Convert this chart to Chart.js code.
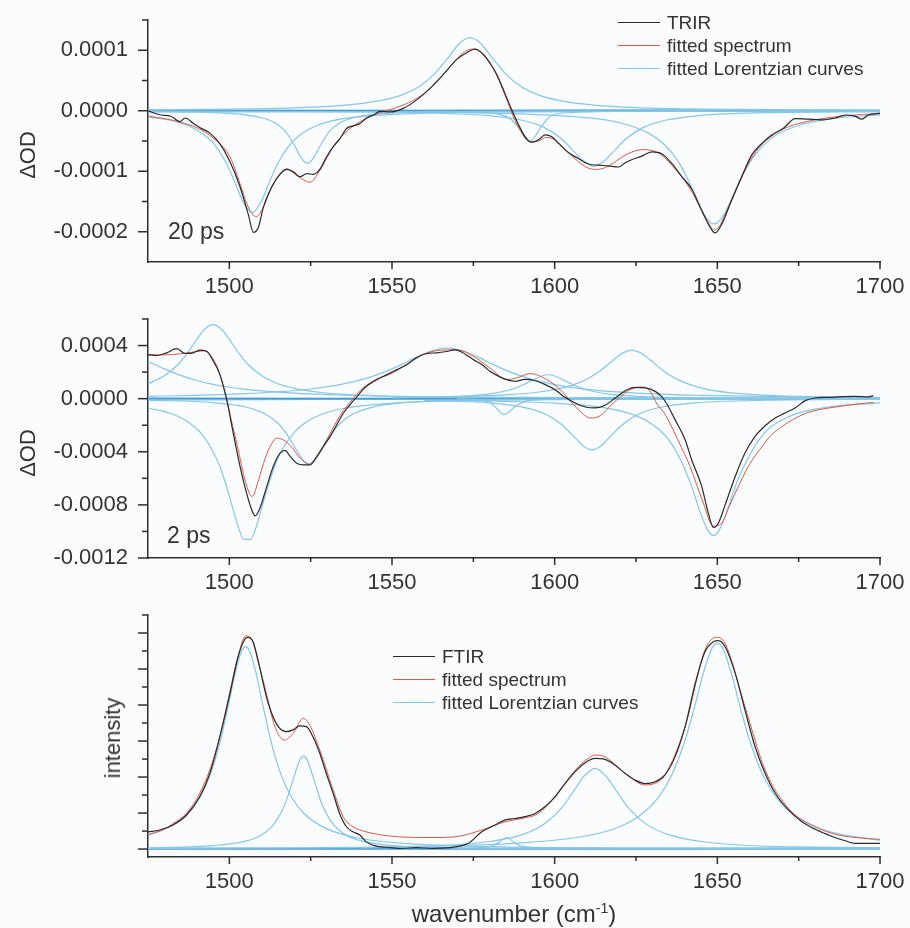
<!DOCTYPE html>
<html>
<head>
<meta charset="utf-8">
<title>TRIR and FTIR spectra with Lorentzian fits</title>
<script src="https://cdn.jsdelivr.net/npm/chart.js@4.4.1/dist/chart.umd.min.js"></script>
<style>
  html, body { margin: 0; padding: 0; background: #fbfcfd; }
  #wrap { position: relative; width: 910px; height: 928px; overflow: hidden;
          font-family: "Liberation Sans", Arial, sans-serif; color: #333; }
  canvas { position: absolute; left: 0; }
  .ytitle { position: absolute; transform: translate(-50%, -50%) rotate(-90deg);
            font-size: 22px; line-height: 22px; white-space: nowrap; }
  .tag { position: absolute; font-size: 23px; line-height: 23px; white-space: nowrap; }
  .xtitle { position: absolute; font-size: 24px; line-height: 24px; white-space: nowrap;
            transform: translateX(-50%); }
  .xtitle sup { font-size: 14px; line-height: 0; vertical-align: 9px; }
  .legend { position: absolute; font-size: 19px; }
  .legend .row { height: 23px; line-height: 23px; display: flex; align-items: center; white-space: nowrap; }
  .legend .swatch { display: inline-block; width: 42px; height: 1px; margin-right: 7px; }
</style>
</head>
<body>
<div id="wrap">
  <canvas id="p1" width="910" height="300" style="top:0px"></canvas>
  <canvas id="p2" width="910" height="300" style="top:300px"></canvas>
  <canvas id="p3" width="910" height="328" style="top:600px"></canvas>
</div>
<script>
// ---------- axes ----------
const WN_MIN = 1475, WN_MAX = 1700;
const X_MAJOR = [1500, 1550, 1600, 1650, 1700];
const X_MINOR = [1525, 1575, 1625, 1675];

const P1_Y_RANGE = [-2.5e-4, 1.5e-4];
const P1_Y_MAJOR = [-2e-4, -1e-4, 0, 1e-4];
const P1_Y_MINOR = [-1.5e-4, -0.5e-4, 0.5e-4, 1.5e-4];

const P2_Y_RANGE = [-12e-4, 6e-4];
const P2_Y_MAJOR = [-12e-4, -8e-4, -4e-4, 0, 4e-4];
const P2_Y_MINOR = [-10e-4, -6e-4, -2e-4, 2e-4, 6e-4];

const P3_Y_RANGE = [-0.22, 6.5];
const P3_Y_MAJOR = [0, 1, 2, 3, 4, 5, 6];
const P3_Y_MINOR = [0.5, 1.5, 2.5, 3.5, 4.5, 5.5, 6.5];

// ---------- panel 1: 20 ps TRIR (ΔOD) ----------
const P1_TRIR_WN = [1475,1477.5,1479,1482,1484.8,1486.4,1489,1491,1494,1497,1500,1503.3,1505.8,1507.4,1508.9,1510.5,1512.5,1515,1517.6,1519.7,1521.7,1523.8,1525.8,1527.9,1529.9,1532,1534,1536.1,1538.1,1540.2,1542.2,1544.3,1546.3,1549.4,1553.5,1557.6,1561.7,1565.8,1569.9,1573,1575.5,1578.1,1580.7,1582.2,1584,1586.3,1588.9,1590.9,1593,1595,1597.1,1599.1,1601.2,1604.2,1607.3,1610.4,1613.5,1616.5,1619.6,1621.7,1623.7,1626.8,1629.9,1632.9,1636,1639.1,1642.1,1645.2,1647.8,1649.3,1651.4,1654.4,1657.5,1660.6,1663.7,1666.7,1670.3,1673.9,1678,1682.1,1686.2,1689.3,1692.3,1694.4,1696.4,1700];
const P1_TRIR = [0,-0.05e-4,-0.07e-4,-0.09e-4,-0.18e-4,-0.12e-4,-0.21e-4,-0.28e-4,-0.37e-4,-0.54e-4,-0.82e-4,-1.26e-4,-1.71e-4,-2.01e-4,-1.93e-4,-1.59e-4,-1.32e-4,-1.09e-4,-0.97e-4,-1.01e-4,-1.09e-4,-1.04e-4,-1.05e-4,-0.96e-4,-0.76e-4,-0.59e-4,-0.46e-4,-0.29e-4,-0.25e-4,-0.21e-4,-0.12e-4,-0.07e-4,-0.01e-4,-0.02e-4,0.04e-4,0.18e-4,0.37e-4,0.60e-4,0.85e-4,0.96e-4,1.02e-4,0.93e-4,0.74e-4,0.60e-4,0.38e-4,0.08e-4,-0.23e-4,-0.43e-4,-0.52e-4,-0.48e-4,-0.40e-4,-0.43e-4,-0.54e-4,-0.69e-4,-0.79e-4,-0.88e-4,-0.90e-4,-0.91e-4,-0.93e-4,-0.86e-4,-0.81e-4,-0.75e-4,-0.68e-4,-0.71e-4,-0.87e-4,-1.09e-4,-1.29e-4,-1.65e-4,-1.93e-4,-2.02e-4,-1.87e-4,-1.48e-4,-1.09e-4,-0.73e-4,-0.54e-4,-0.40e-4,-0.29e-4,-0.13e-4,-0.14e-4,-0.15e-4,-0.12e-4,-0.07e-4,-0.09e-4,-0.14e-4,-0.07e-4,-0.04e-4];

const P1_FIT_WN = [1475,1480,1485,1490,1495,1500.2,1503.3,1505.8,1508.3,1510.5,1512.5,1515.6,1517.6,1520.7,1524.8,1527.9,1530,1532,1536.1,1540.2,1546.3,1550,1555,1560,1565,1570,1572.5,1575,1577.5,1580,1582.5,1585,1587.5,1590,1592.5,1595,1597.5,1600,1602.5,1605,1607.5,1610,1612.5,1615,1617.5,1620,1622.5,1625,1627.5,1630,1632.5,1635,1637.5,1640,1642.5,1645,1647.5,1649,1650.5,1652.5,1655,1657.5,1660,1662.5,1665,1667.5,1670,1672.5,1675,1680,1685,1690,1695,1700];
const P1_FIT = [-0.09e-4,-0.13e-4,-0.19e-4,-0.28e-4,-0.45e-4,-0.76e-4,-1.21e-4,-1.59e-4,-1.75e-4,-1.59e-4,-1.32e-4,-1.04e-4,-0.96e-4,-1.07e-4,-1.18e-4,-0.98e-4,-0.78e-4,-0.59e-4,-0.34e-4,-0.18e-4,-0.03e-4,0.03e-4,0.13e-4,0.29e-4,0.55e-4,0.86e-4,0.98e-4,1.02e-4,0.96e-4,0.79e-4,0.55e-4,0.22e-4,-0.12e-4,-0.38e-4,-0.52e-4,-0.50e-4,-0.44e-4,-0.48e-4,-0.60e-4,-0.73e-4,-0.85e-4,-0.94e-4,-0.97e-4,-0.95e-4,-0.88e-4,-0.79e-4,-0.71e-4,-0.66e-4,-0.64e-4,-0.66e-4,-0.72e-4,-0.84e-4,-0.99e-4,-1.16e-4,-1.37e-4,-1.63e-4,-1.87e-4,-1.97e-4,-1.92e-4,-1.70e-4,-1.40e-4,-1.10e-4,-0.83e-4,-0.63e-4,-0.49e-4,-0.39e-4,-0.31e-4,-0.25e-4,-0.21e-4,-0.15e-4,-0.11e-4,-0.08e-4,-0.06e-4,-0.05e-4];

// fitted Lorentzian components, 20 ps
const P1_L1507_WN = [1475,1485,1490,1495,1499,1502,1504,1506,1507,1508,1510,1512,1515,1518,1522,1527,1535,1545,1560,1580,1620,1700];
const P1_L1507 = [-0.10e-4,-0.20e-4,-0.32e-4,-0.53e-4,-0.86e-4,-1.22e-4,-1.48e-4,-1.65e-4,-1.68e-4,-1.65e-4,-1.48e-4,-1.22e-4,-0.86e-4,-0.60e-4,-0.39e-4,-0.24e-4,-0.13e-4,-0.075e-4,-0.04e-4,-0.02e-4,-0.01e-4,-0.003e-4];
const P1_L1524_WN = [1475,1495,1505,1510,1514,1517,1520,1522,1524,1526,1528,1531,1534,1538,1545,1560,1600,1700];
const P1_L1524 = [-0.011e-4,-0.03e-4,-0.067e-4,-0.116e-4,-0.2e-4,-0.33e-4,-0.57e-4,-0.77e-4,-0.87e-4,-0.77e-4,-0.57e-4,-0.33e-4,-0.2e-4,-0.116e-4,-0.055e-4,-0.02e-4,-0.005e-4,-0.001e-4];
const P1_L1574_WN = [1475,1500,1520,1535,1545,1552,1558,1563,1567,1570,1572,1574,1576,1578,1581,1585,1590,1596,1603,1612,1625,1645,1670,1700];
const P1_L1574 = [0.015e-4,0.026e-4,0.048e-4,0.088e-4,0.154e-4,0.242e-4,0.388e-4,0.605e-4,0.86e-4,1.07e-4,1.17e-4,1.21e-4,1.17e-4,1.07e-4,0.86e-4,0.605e-4,0.388e-4,0.242e-4,0.154e-4,0.094e-4,0.053e-4,0.029e-4,0.016e-4,0.009e-4];
const P1_L1592_WN = [1560,1575,1582,1586,1589,1592.5,1596,1599,1605,1620,1650];
const P1_L1592 = [-0.01e-4,-0.02e-4,-0.05e-4,-0.12e-4,-0.28e-4,-0.50e-4,-0.25e-4,-0.08e-4,-0.03e-4,-0.01e-4,0];
const P1_L1612_WN = [1560,1580,1590,1597,1602,1606,1609,1612,1615,1618,1622,1627,1634,1645,1665,1700];
const P1_L1612 = [-0.033e-4,-0.082e-4,-0.157e-4,-0.283e-4,-0.46e-4,-0.68e-4,-0.84e-4,-0.92e-4,-0.84e-4,-0.68e-4,-0.46e-4,-0.283e-4,-0.157e-4,-0.077e-4,-0.032e-4,-0.013e-4];
const P1_L1649_WN = [1475,1550,1590,1610,1620,1629,1634,1638,1641,1644,1646,1648,1649,1650,1652,1655,1658,1662,1667,1675,1685,1700];
const P1_L1649 = [-0.006e-4,-0.019e-4,-0.052e-4,-0.115e-4,-0.198e-4,-0.374e-4,-0.575e-4,-0.84e-4,-1.14e-4,-1.5e-4,-1.72e-4,-1.85e-4,-1.87e-4,-1.85e-4,-1.72e-4,-1.38e-4,-1.03e-4,-0.70e-4,-0.44e-4,-0.24e-4,-0.133e-4,-0.069e-4];
const P1_FLAT_WN = [1475, 1550, 1625, 1700];
const P1_FLAT_A = [0, 0, 0, 0];
const P1_FLAT_B = [-0.02e-4, -0.02e-4, -0.01e-4, 0];
const P1_FLAT_C = [0.01e-4, 0.01e-4, 0.02e-4, 0.01e-4];

// ---------- panel 2: 2 ps TRIR (ΔOD) ----------
const P2_TRIR_WN = [1475,1477.6,1480.7,1483.8,1486.4,1488.9,1491,1493,1495.1,1497.1,1499.2,1501.2,1503.3,1505.3,1506.9,1507.9,1509.4,1511.5,1513.5,1515.6,1517.1,1518.7,1520.7,1522.8,1524.8,1526.9,1528.9,1531,1533,1535.1,1537.1,1539.2,1541.2,1543.3,1545.3,1548.4,1551.5,1554.5,1557.6,1560.7,1563.8,1566.8,1569.4,1571.5,1573.5,1575,1577.6,1580.1,1582.7,1585.3,1587.8,1590.9,1594,1597.1,1600.1,1602.7,1606.3,1609.4,1612.4,1615.5,1618.6,1621.7,1624.7,1627.8,1630.9,1632.9,1634.5,1637,1640.1,1642.1,1645.2,1647.2,1648.8,1650.3,1652.4,1655.5,1658.5,1661.6,1664.7,1667.8,1670.8,1673.9,1677,1680.1,1684.2,1688.3,1692.3,1696.4,1698];
const P2_TRIR = [3.32e-4,3.25e-4,3.45e-4,3.77e-4,3.40e-4,3.45e-4,3.65e-4,3.57e-4,2.82e-4,1.81e-4,-0.08e-4,-2.59e-4,-5.11e-4,-7.12e-4,-8.38e-4,-8.83e-4,-8.25e-4,-6.62e-4,-5.11e-4,-4.10e-4,-3.90e-4,-4.35e-4,-4.86e-4,-4.98e-4,-4.98e-4,-4.35e-4,-3.60e-4,-2.84e-4,-1.96e-4,-1.08e-4,-0.45e-4,0.13e-4,0.73e-4,1.13e-4,1.43e-4,1.81e-4,2.19e-4,2.55e-4,3.10e-4,3.40e-4,3.45e-4,3.55e-4,3.68e-4,3.50e-4,3.19e-4,2.94e-4,2.57e-4,2.06e-4,1.70e-4,1.43e-4,1.31e-4,1.45e-4,1.35e-4,1.06e-4,0.68e-4,0.18e-4,-0.33e-4,-0.63e-4,-0.70e-4,-0.50e-4,0.05e-4,0.60e-4,0.85e-4,0.81e-4,0.55e-4,0.15e-4,-0.40e-4,-1.58e-4,-3.09e-4,-4.60e-4,-6.60e-4,-8.60e-4,-9.70e-4,-9.38e-4,-8.00e-4,-5.86e-4,-4.10e-4,-2.84e-4,-2.04e-4,-1.46e-4,-1.08e-4,-0.70e-4,-0.15e-4,0.05e-4,0.10e-4,0.15e-4,0.18e-4,0.13e-4,0.23e-4];

const P2_FIT_WN = [1475,1480,1485,1490,1492.5,1495,1497,1499,1500.5,1502.5,1505,1507,1509,1511,1513,1514.5,1516.5,1519,1521.5,1524.5,1527,1529,1531,1533,1535,1537,1539,1541,1543.3,1545,1549.4,1554.5,1559.6,1564.8,1569.9,1575,1580.1,1585.3,1588.3,1592.4,1597.6,1601.7,1605.8,1608.5,1610.9,1614,1618,1623.2,1627.3,1629.5,1631.3,1634,1636.4,1639,1641.6,1645.7,1648.7,1651.3,1653.5,1656.9,1660,1663,1666,1669.2,1673,1677.4,1682,1687.7,1693,1698];
const P2_FIT = [3.30e-4,3.30e-4,3.38e-4,3.55e-4,3.60e-4,3.00e-4,1.90e-4,0.10e-4,-1.50e-4,-3.60e-4,-6.30e-4,-7.37e-4,-6.10e-4,-4.50e-4,-3.40e-4,-2.97e-4,-3.10e-4,-3.60e-4,-4.40e-4,-4.95e-4,-4.30e-4,-3.50e-4,-2.60e-4,-1.70e-4,-0.90e-4,-0.30e-4,0.30e-4,0.80e-4,1.20e-4,1.45e-4,1.85e-4,2.57e-4,3.32e-4,3.65e-4,3.68e-4,3.19e-4,2.31e-4,1.43e-4,1.56e-4,1.89e-4,1.43e-4,0.68e-4,-0.45e-4,-1.10e-4,-1.46e-4,-1.28e-4,-0.33e-4,0.68e-4,0.88e-4,0.50e-4,-0.33e-4,-1.20e-4,-2.34e-4,-3.70e-4,-5.10e-4,-7.87e-4,-9.60e-4,-9.38e-4,-8.20e-4,-6.37e-4,-4.90e-4,-3.85e-4,-2.90e-4,-2.21e-4,-1.60e-4,-1.08e-4,-0.80e-4,-0.58e-4,-0.40e-4,-0.28e-4];

// fitted Lorentzian components, 2 ps
const P2_L1465_WN = [1475,1480,1485,1490,1495,1500,1505,1510,1520,1530,1545,1565,1590,1620,1660,1700];
const P2_L1465 = [2.80e-4,2.24e-4,1.75e-4,1.37e-4,1.08e-4,0.86e-4,0.70e-4,0.58e-4,0.41e-4,0.30e-4,0.20e-4,0.13e-4,0.09e-4,0.06e-4,0.036e-4,0.025e-4];
const P2_L1495_WN = [1475,1480,1484,1487,1490,1492,1494,1495,1496,1498,1500,1503,1506,1510,1515,1520,1527,1537,1550,1570,1600,1640,1700];
const P2_L1495 = [1.12e-4,1.72e-4,2.52e-4,3.40e-4,4.46e-4,5.12e-4,5.52e-4,5.58e-4,5.52e-4,5.12e-4,4.46e-4,3.40e-4,2.52e-4,1.72e-4,1.12e-4,0.77e-4,0.50e-4,0.30e-4,0.18e-4,0.098e-4,0.05e-4,0.026e-4,0.013e-4];
const P2_L1505_WN = [1475,1482,1487,1491,1494,1497,1499,1501,1503,1504.5,1506.5,1508,1510,1512,1515,1518,1522,1528,1536,1550,1575,1620,1700];
const P2_L1505 = [-0.70e-4,-1.12e-4,-1.70e-4,-2.52e-4,-3.55e-4,-5.05e-4,-6.50e-4,-8.20e-4,-9.84e-4,-10.6e-4,-10.6e-4,-9.84e-4,-8.20e-4,-6.50e-4,-4.43e-4,-3.15e-4,-2.06e-4,-1.21e-4,-0.70e-4,-0.34e-4,-0.14e-4,-0.053e-4,-0.018e-4];
const P2_L1524_WN = [1475,1495,1505,1511,1515,1518,1521,1523,1524.5,1526,1528,1531,1534,1538,1545,1560,1600,1700];
const P2_L1524 = [-0.11e-4,-0.30e-4,-0.63e-4,-1.16e-4,-1.87e-4,-2.80e-4,-4.02e-4,-4.71e-4,-4.90e-4,-4.71e-4,-4.02e-4,-2.80e-4,-1.87e-4,-1.16e-4,-0.58e-4,-0.21e-4,-0.048e-4,-0.009e-4];
const P2_L1567_WN = [1475,1490,1505,1515,1525,1535,1542,1548,1553,1557,1561,1564,1567,1570,1573,1577,1581,1586,1592,1600,1610,1625,1645,1670,1700];
const P2_L1567 = [0.18e-4,0.25e-4,0.38e-4,0.52e-4,0.73e-4,1.11e-4,1.53e-4,2.04e-4,2.58e-4,3.07e-4,3.50e-4,3.72e-4,3.80e-4,3.72e-4,3.50e-4,3.07e-4,2.58e-4,2.04e-4,1.53e-4,1.06e-4,0.70e-4,0.42e-4,0.25e-4,0.15e-4,0.088e-4];
const P2_L1585_WN = [1570,1578,1581,1584.5,1588,1591,1597,1610];
const P2_L1585 = [-0.02e-4,-0.08e-4,-0.45e-4,-1.20e-4,-0.55e-4,-0.20e-4,-0.06e-4,-0.02e-4];
const P2_L1598_WN = [1550,1570,1580,1586,1590,1593,1596,1598,1600,1603,1606,1610,1616,1625,1640,1670,1700];
const P2_L1598 = [0.061e-4,0.17e-4,0.36e-4,0.65e-4,1.01e-4,1.37e-4,1.71e-4,1.80e-4,1.71e-4,1.37e-4,1.01e-4,0.65e-4,0.36e-4,0.18e-4,0.079e-4,0.028e-4,0.014e-4];
const P2_L1612_WN = [1560,1580,1590,1597,1602,1606,1609,1611.5,1614,1617,1621,1626,1633,1645,1665,1700];
const P2_L1612 = [-0.13e-4,-0.32e-4,-0.63e-4,-1.14e-4,-1.93e-4,-2.88e-4,-3.60e-4,-3.85e-4,-3.60e-4,-2.88e-4,-1.93e-4,-1.14e-4,-0.63e-4,-0.29e-4,-0.12e-4,-0.044e-4];
const P2_L1624_WN = [1560,1585,1597,1605,1610,1614,1618,1621,1623.7,1626.5,1629.5,1633.5,1637.5,1643,1650,1660,1675,1700];
const P2_L1624 = [0.11e-4,0.29e-4,0.56e-4,0.98e-4,1.48e-4,2.10e-4,2.90e-4,3.45e-4,3.65e-4,3.44e-4,2.89e-4,2.09e-4,1.47e-4,0.95e-4,0.57e-4,0.32e-4,0.17e-4,0.078e-4];
const P2_L1649_WN = [1560,1600,1615,1625,1630,1635,1639,1642,1645,1647,1648.8,1650.5,1653,1656,1660,1665,1672,1682,1700];
const P2_L1649 = [-0.10e-4,-0.34e-4,-0.68e-4,-1.28e-4,-1.93e-4,-3.08e-4,-4.75e-4,-6.55e-4,-8.74e-4,-9.90e-4,-10.3e-4,-9.94e-4,-8.46e-4,-6.29e-4,-4.20e-4,-2.44e-4,-1.35e-4,-0.71e-4,-0.31e-4];
const P2_FLAT_WN = [1475, 1530, 1590, 1650, 1700];
const P2_FLAT_A = [0, 0, 0, 0, 0];
const P2_FLAT_B = [-0.10e-4, -0.06e-4, -0.03e-4, -0.02e-4, -0.02e-4];
const P2_FLAT_C = [0.06e-4, 0.05e-4, 0.04e-4, 0.05e-4, 0.08e-4];

// ---------- panel 3: FTIR (intensity, arb. units) ----------
const P3_FTIR_WN = [1475,1478.6,1482.7,1486.8,1490.9,1494,1497.1,1500.2,1502.7,1504.7,1505.7,1507.3,1509.3,1511.4,1513.4,1515.5,1517.5,1519.6,1521.6,1523.7,1525.7,1527.8,1529.8,1531.9,1533.9,1536,1538,1540.1,1542.1,1545.2,1548.3,1552.4,1557.5,1562.6,1569.4,1573.5,1577.6,1581.7,1584.8,1587.8,1590.9,1594,1597.1,1600.1,1603.2,1606.3,1609.4,1612.4,1615.5,1618.6,1621.7,1624.7,1627.8,1630.9,1633.9,1637,1640.1,1643.2,1646.2,1648.8,1650.3,1652.4,1655.5,1658.5,1661.6,1664.7,1667.8,1671.9,1676,1680.1,1684.2,1686.2,1689.3,1692.3,1696.4,1700];
const P3_FTIR = [0.48,0.53,0.67,0.94,1.45,2.10,3.12,4.32,5.34,5.82,5.88,5.76,5.06,4.23,3.68,3.35,3.26,3.31,3.42,3.40,3.12,2.66,2.10,1.55,0.99,0.62,0.48,0.39,0.20,0.08,0.05,0.02,0.04,0.02,0.06,0.16,0.48,0.67,0.81,0.85,0.90,0.99,1.18,1.45,1.82,2.15,2.40,2.52,2.49,2.33,2.10,1.92,1.82,1.87,2.06,2.56,3.40,4.60,5.48,5.76,5.79,5.62,4.88,3.86,2.84,2.10,1.55,1.08,0.76,0.55,0.39,0.32,0.23,0.16,0.16,0.16];

const P3_FIT_WN = [1475,1480,1482.7,1486.8,1490.9,1494,1497,1500,1502.5,1505.1,1507,1509,1511.4,1514,1516.9,1519.6,1522.7,1524.7,1527.8,1531.9,1535,1538,1542,1547,1552,1562.6,1569.4,1577.6,1584.8,1590,1595,1600,1606.3,1610,1612.4,1615.5,1621.7,1627.8,1630,1633.9,1640.1,1646.2,1649.8,1652.4,1658.5,1664.7,1671.9,1680.1,1687.2,1700];
const P3_FIT = [0.39,0.55,0.71,0.99,1.55,2.20,3.10,4.30,5.30,5.92,5.80,5.15,4.32,3.40,3.03,3.21,3.63,3.44,2.75,1.64,0.90,0.62,0.48,0.39,0.34,0.32,0.34,0.53,0.76,0.85,0.99,1.45,2.19,2.50,2.61,2.56,2.10,1.78,1.80,2.06,3.40,5.53,5.88,5.71,3.95,2.19,1.13,0.62,0.39,0.27];

// fitted Lorentzian components, FTIR
const P3_L1505_WN = [1475,1482,1487,1491,1494,1497,1500,1502,1504,1505,1506,1508,1510,1513,1516,1519,1523,1530,1540,1555,1580,1620,1700];
const P3_L1505 = [0.40,0.64,0.98,1.46,2.04,2.92,4.12,4.97,5.54,5.62,5.54,4.97,4.12,2.92,2.04,1.46,0.98,0.56,0.30,0.15,0.068,0.029,0.01];
const P3_L1523_WN = [1475,1495,1505,1510,1514,1517,1519.5,1521.5,1522.8,1524,1526,1528.5,1531.5,1536,1545,1560,1600,1700];
const P3_L1523 = [0.034,0.097,0.22,0.40,0.73,1.22,1.90,2.44,2.58,2.46,1.93,1.24,0.74,0.38,0.15,0.055,0.013,0.0025];
const P3_L1585_WN = [1570,1580.7,1583,1585.3,1588,1590.9,1600];
const P3_L1585 = [0.01,0.08,0.20,0.32,0.15,0.06,0.02];
const P3_L1612_WN = [1540,1565,1580,1590,1597,1602,1606,1609,1612.4,1616,1619,1623,1628,1635,1645,1660,1680,1700];
const P3_L1612 = [0.042,0.10,0.21,0.40,0.71,1.13,1.63,2.02,2.24,2.00,1.61,1.11,0.70,0.40,0.21,0.10,0.053,0.032];
const P3_L1650_WN = [1475,1550,1590,1610,1620,1627,1632,1636,1640,1643,1646,1648.5,1650,1651.5,1654,1657,1660,1664,1669,1676,1685,1700];
const P3_L1650 = [0.02,0.062,0.17,0.37,0.62,0.99,1.45,2.06,3.00,3.95,4.98,5.60,5.71,5.60,4.98,3.95,3.00,2.06,1.34,0.80,0.47,0.24];
const P3_FLAT_WN = [1475, 1550, 1625, 1700];
const P3_FLAT_A = [0, 0, 0, 0];
const P3_FLAT_B = [0.03, 0.02, 0.03, 0.04];

// ---------- legend text ----------
const LEGEND_TRIR = ['TRIR', 'fitted spectrum', 'fitted Lorentzian curves'];
const LEGEND_FTIR = ['FTIR', 'fitted spectrum', 'fitted Lorentzian curves'];

// ---------- styling ----------
const FONT = '"Liberation Sans", Arial, sans-serif';
const TEXT_COLOR = '#333333';
const AXIS_COLOR = '#2e2e2e';
const DATA_COLOR = '#2a2a2a';
const FIT_COLOR = '#d85a4a';
const LOR_COLOR = '#86c6e6';
const BASE_COLOR = '#4b9ad4';
const LEGEND_COLORS = [DATA_COLOR, FIT_COLOR, LOR_COLOR];

Chart.defaults.font.family = FONT;
Chart.defaults.color = TEXT_COLOR;

function pts(wn, vals) {
  return wn.map((w, i) => ({ x: w, y: vals[i] }));
}
function series(wn, vals, color, width) {
  return {
    data: pts(wn, vals), borderColor: color, borderWidth: width,
    pointRadius: 0, fill: false, cubicInterpolationMode: 'monotone'
  };
}

// outward major/minor tick marks on the left and bottom axes
const axisTicks = {
  id: 'axisTicks',
  afterDraw(chart, args, opts) {
    const ctx = chart.ctx;
    ctx.save();
    ctx.strokeStyle = AXIS_COLOR;
    ctx.lineWidth = 1.5;
    const xs = chart.scales.x, ys = chart.scales.y;
    const mark = (scale, v, len) => {
      const p = scale.getPixelForValue(v);
      ctx.beginPath();
      if (scale.isHorizontal()) { ctx.moveTo(p, scale.top); ctx.lineTo(p, scale.top + len); }
      else { ctx.moveTo(scale.right, p); ctx.lineTo(scale.right - len, p); }
      ctx.stroke();
    };
    opts.xMajor.forEach(v => mark(xs, v, 7));
    opts.xMinor.forEach(v => mark(xs, v, 4));
    opts.yMajor.forEach(v => mark(ys, v, 10));
    opts.yMinor.forEach(v => mark(ys, v, 6));
    ctx.restore();
  }
};

function panel(id, cfg) {
  return new Chart(document.getElementById(id), {
    type: 'line',
    data: { datasets: cfg.datasets },
    options: {
      responsive: false,
      animation: false,
      events: [],
      layout: { padding: { left: 0, right: 30, top: cfg.top, bottom: 0 } },
      plugins: {
        legend: { display: false },
        tooltip: { enabled: false },
        axisTicks: { xMajor: X_MAJOR, xMinor: X_MINOR, yMajor: cfg.yMajor, yMinor: cfg.yMinor }
      },
      scales: {
        x: {
          type: 'linear', min: WN_MIN, max: WN_MAX,
          afterBuildTicks: s => { s.ticks = X_MAJOR.map(v => ({ value: v })); },
          afterFit: s => { s.height = cfg.xHeight; s.paddingLeft = 0; s.paddingRight = 0; },
          grid: { display: false, drawTicks: false },
          border: { display: true, color: AXIS_COLOR, width: 1.5 },
          ticks: { padding: 12, autoSkip: false, maxRotation: 0, color: TEXT_COLOR,
                   font: { size: 22, family: FONT }, callback: v => String(v) }
        },
        y: {
          type: 'linear', min: cfg.yRange[0], max: cfg.yRange[1],
          afterBuildTicks: s => { s.ticks = cfg.yMajor.map(v => ({ value: v })); },
          afterFit: s => { s.width = 148; s.paddingTop = 0; s.paddingBottom = 0; },
          grid: { display: false, drawTicks: false },
          border: { display: true, color: AXIS_COLOR, width: 1.5 },
          ticks: { padding: 20, autoSkip: false, color: TEXT_COLOR,
                   font: { size: 22, family: FONT }, callback: cfg.yLabel }
        }
      }
    },
    plugins: [axisTicks]
  });
}

const odLabel = v => (Math.abs(v) < 1e-12 ? 0 : v).toFixed(4);

panel('p1', {
  top: 20, xHeight: 38, yRange: P1_Y_RANGE, yMajor: P1_Y_MAJOR, yMinor: P1_Y_MINOR, yLabel: odLabel,
  datasets: [
    series(P1_TRIR_WN, P1_TRIR, DATA_COLOR, 1.2),
    series(P1_FIT_WN, P1_FIT, FIT_COLOR, 1),
    series(P1_L1507_WN, P1_L1507, LOR_COLOR, 1.2),
    series(P1_L1524_WN, P1_L1524, LOR_COLOR, 1.2),
    series(P1_L1574_WN, P1_L1574, LOR_COLOR, 1.2),
    series(P1_L1592_WN, P1_L1592, LOR_COLOR, 1.2),
    series(P1_L1612_WN, P1_L1612, LOR_COLOR, 1.2),
    series(P1_L1649_WN, P1_L1649, LOR_COLOR, 1.2),
    series(P1_FLAT_WN, P1_FLAT_A, BASE_COLOR, 1.5),
    series(P1_FLAT_WN, P1_FLAT_B, LOR_COLOR, 1.2),
    series(P1_FLAT_WN, P1_FLAT_C, LOR_COLOR, 1.2)
  ]
});

panel('p2', {
  top: 19, xHeight: 42, yRange: P2_Y_RANGE, yMajor: P2_Y_MAJOR, yMinor: P2_Y_MINOR, yLabel: odLabel,
  datasets: [
    series(P2_TRIR_WN, P2_TRIR, DATA_COLOR, 1.2),
    series(P2_FIT_WN, P2_FIT, FIT_COLOR, 1),
    series(P2_L1465_WN, P2_L1465, LOR_COLOR, 1.2),
    series(P2_L1495_WN, P2_L1495, LOR_COLOR, 1.2),
    series(P2_L1505_WN, P2_L1505, LOR_COLOR, 1.2),
    series(P2_L1524_WN, P2_L1524, LOR_COLOR, 1.2),
    series(P2_L1567_WN, P2_L1567, LOR_COLOR, 1.2),
    series(P2_L1585_WN, P2_L1585, LOR_COLOR, 1.2),
    series(P2_L1598_WN, P2_L1598, LOR_COLOR, 1.2),
    series(P2_L1612_WN, P2_L1612, LOR_COLOR, 1.2),
    series(P2_L1624_WN, P2_L1624, LOR_COLOR, 1.2),
    series(P2_L1649_WN, P2_L1649, LOR_COLOR, 1.2),
    series(P2_FLAT_WN, P2_FLAT_A, BASE_COLOR, 1.5),
    series(P2_FLAT_WN, P2_FLAT_B, LOR_COLOR, 1.2),
    series(P2_FLAT_WN, P2_FLAT_C, LOR_COLOR, 1.2)
  ]
});

panel('p3', {
  top: 15, xHeight: 71, yRange: P3_Y_RANGE, yMajor: P3_Y_MAJOR, yMinor: P3_Y_MINOR, yLabel: () => '',
  datasets: [
    series(P3_FTIR_WN, P3_FTIR, DATA_COLOR, 1.2),
    series(P3_FIT_WN, P3_FIT, FIT_COLOR, 1),
    series(P3_L1505_WN, P3_L1505, LOR_COLOR, 1.2),
    series(P3_L1523_WN, P3_L1523, LOR_COLOR, 1.2),
    series(P3_L1585_WN, P3_L1585, LOR_COLOR, 1.2),
    series(P3_L1612_WN, P3_L1612, LOR_COLOR, 1.2),
    series(P3_L1650_WN, P3_L1650, LOR_COLOR, 1.2),
    series(P3_FLAT_WN, P3_FLAT_A, BASE_COLOR, 1.5),
    series(P3_FLAT_WN, P3_FLAT_B, LOR_COLOR, 1.2)
  ]
});

// ---------- text around the plots ----------
const wrap = document.getElementById('wrap');
function addText(cls, html, left, top) {
  const el = document.createElement('div');
  el.className = cls;
  el.innerHTML = html;
  el.style.left = left + 'px';
  el.style.top = top + 'px';
  wrap.appendChild(el);
  return el;
}
function addLegend(labels, left, top) {
  const box = addText('legend', '', left, top);
  labels.forEach((t, i) => {
    const row = document.createElement('div');
    row.className = 'row';
    const sw = document.createElement('span');
    sw.className = 'swatch';
    sw.style.background = LEGEND_COLORS[i];
    const tx = document.createElement('span');
    tx.textContent = t;
    row.appendChild(sw);
    row.appendChild(tx);
    box.appendChild(row);
  });
}

addText('ytitle', 'ΔOD', 28, 155);
addText('ytitle', 'ΔOD', 28, 453);
addText('ytitle', 'intensity', 113, 738);
addText('tag', '20 ps', 168, 220);
addText('tag', '2 ps', 167, 524);
addText('xtitle', 'wavenumber (cm<sup>-1</sup>)', 514, 902);
addLegend(LEGEND_TRIR, 618, 10.5);
addLegend(LEGEND_FTIR, 393, 644.5);
</script>
</body>
</html>
